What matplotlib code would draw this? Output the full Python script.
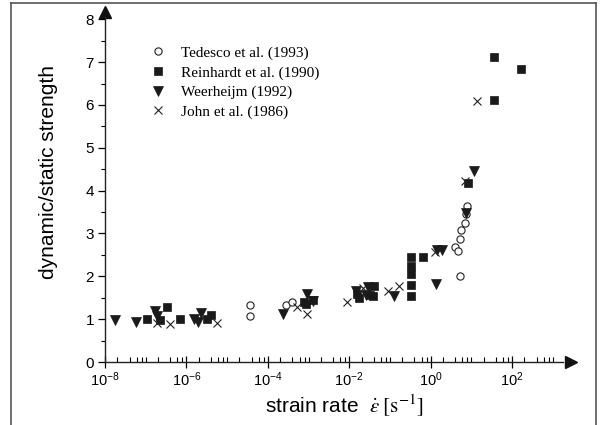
import numpy as np
import matplotlib
matplotlib.use("Agg")
from matplotlib import pyplot as plt
from matplotlib.lines import Line2D
from matplotlib.ticker import LogLocator, NullFormatter, FixedLocator

plt.rcParams['font.family'] = ['Liberation Sans', 'DejaVu Sans']
plt.rcParams['mathtext.fontset'] = 'stix'

# dynamic increase factor vs strain rate (log10 of rate, ratio)
tedesco_logx = [-4.44, -4.44, -3.55, -3.41, 0.60, 0.66, 0.72, 0.74, 0.84, 0.87, 0.90, 0.72]
tedesco_y = [1.33, 1.08, 1.32, 1.40, 2.69, 2.59, 2.87, 3.08, 3.24, 3.45, 3.63, 2.01]

reinhardt_logx = [-6.97, -6.64, -6.47, -6.15, -5.49, -5.39, -3.12, -3.06, -2.88,
                  -1.81, -1.77, -1.39, -1.50, -1.41,
                  -0.49, -0.49, -0.49, -0.49, -0.49, -0.18, 0.91, 1.56, 1.56, 2.22]
reinhardt_y = [1.00, 0.99, 1.29, 1.00, 1.00, 1.10, 1.40, 1.35, 1.45,
               1.59, 1.49, 1.78, 1.57, 1.55,
               2.44, 2.24, 2.05, 1.80, 1.54, 2.44, 4.17, 7.12, 6.12, 6.84]

weerheijm_logx = [-7.76, -7.25, -6.76, -6.72, -5.82, -5.65, -5.72, -3.63, -3.03, -2.89,
                  -1.84, -1.53, -1.59, -0.90, 0.13, 0.15, 0.27, 0.87, 1.07]
weerheijm_y = [0.98, 0.93, 1.18, 1.08, 1.00, 1.15, 0.93, 1.12, 1.59, 1.42,
               1.66, 1.75, 1.56, 1.55, 1.83, 2.61, 2.61, 3.47, 4.46]

john_logx = [-6.72, -6.41, -5.26, -3.29, -3.03, -2.05, -1.67, -1.04, -0.78, 0.11, 0.84, 1.15]
john_y = [0.91, 0.88, 0.92, 1.28, 1.11, 1.39, 1.72, 1.66, 1.77, 2.57, 4.22, 6.09]

labels = ['Tedesco et al. (1993)', 'Reinhardt et al. (1990)',
          'Weerheijm (1992)', 'John et al. (1986)']

W, H = 605, 425
fig = plt.figure(figsize=(W / 100, H / 100), dpi=100)

# outer frame of the figure
for xs, ys in [((11, 11), (0, 422)), ((11, 596), (422, 422)), ((596, 596), (0, 422))]:
    fig.add_artist(Line2D(np.array(xs) / W, np.array(ys) / H, color='#555555', lw=1.2))

xmax_log = 3.25
ax = fig.add_axes([105 / W, 63 / H, (430.7 + xmax_log * 40.7 - 105) / W, (8.05 * 42.84) / H])
ax.set_xscale('log')
ax.set_xlim(1e-8, 10 ** xmax_log)
ax.set_ylim(0, 8.05)

ax.plot(10 ** np.array(tedesco_logx), tedesco_y, ls='none', marker='o', ms=5.2,
        mfc='white', mec='#222222', mew=0.8, label=labels[0], clip_on=False)
ax.plot(10 ** np.array(reinhardt_logx), reinhardt_y, ls='none', marker='s', ms=5.6,
        mfc='#1a1a1a', mec='#1a1a1a', mew=0.5, label=labels[1], clip_on=False)
ax.plot(10 ** np.array(weerheijm_logx), weerheijm_y, ls='none', marker='v', ms=6.8,
        mfc='#1a1a1a', mec='#1a1a1a', mew=0.5, label=labels[2], clip_on=False)
ax.plot(10 ** np.array(john_logx), john_y, ls='none', marker='x', ms=5.4,
        color='#222222', mew=0.8, label=labels[3], clip_on=False)

for s in ['top', 'right']:
    ax.spines[s].set_visible(False)
for s in ['left', 'bottom']:
    ax.spines[s].set_linewidth(1.0)
    ax.spines[s].set_color('#222222')

# arrow heads on the axes
ax.plot(1e-8, 8.17, marker='^', ms=8, color='#111111', clip_on=False)
ax.plot(10 ** (xmax_log + 0.2), 0, marker='>', ms=8, color='#111111', clip_on=False)

ax.set_yticks(range(0, 9))
ax.yaxis.set_minor_locator(FixedLocator(np.arange(0.5, 8, 1.0)))
ax.tick_params(axis='y', which='major', direction='out', length=5, width=0.9,
               labelsize=11, pad=3)
ax.tick_params(axis='y', which='minor', direction='out', length=3, width=0.8)

ax.xaxis.set_major_locator(FixedLocator(10.0 ** np.arange(-8, 3, 2)))
ax.xaxis.set_minor_locator(LogLocator(base=10, subs=(1.0, 2.0, 4.0, 6.0, 8.0), numticks=30))
ax.xaxis.set_minor_formatter(NullFormatter())
ax.tick_params(axis='x', which='major', direction='inout', length=8, width=0.9,
               labelsize=10.5, pad=2)
ax.tick_params(axis='x', which='minor', direction='in', length=3.5, width=0.8)

ax.set_ylabel('dynamic/static strength', fontsize=15)
ax.yaxis.set_label_coords(-47 / 460, (362 - 172) / (8.05 * 42.84))
ax.set_xlabel(r'strain rate  $\dot{\varepsilon}\;\mathrm{[s^{-1}]}$', fontsize=15)
ax.xaxis.set_label_coords((345 - 105) / 460, -31 / (8.05 * 42.84))

ax.legend(loc='upper left', bbox_to_anchor=(150 / W, 1 - 46 / H), bbox_transform=fig.transFigure,
          frameon=False, handlelength=1.0, handletextpad=1.0, labelspacing=0.38,
          borderpad=0, borderaxespad=0,
          prop={'family': 'Liberation Serif', 'size': 11})

fig.savefig('out.png', dpi=100)
